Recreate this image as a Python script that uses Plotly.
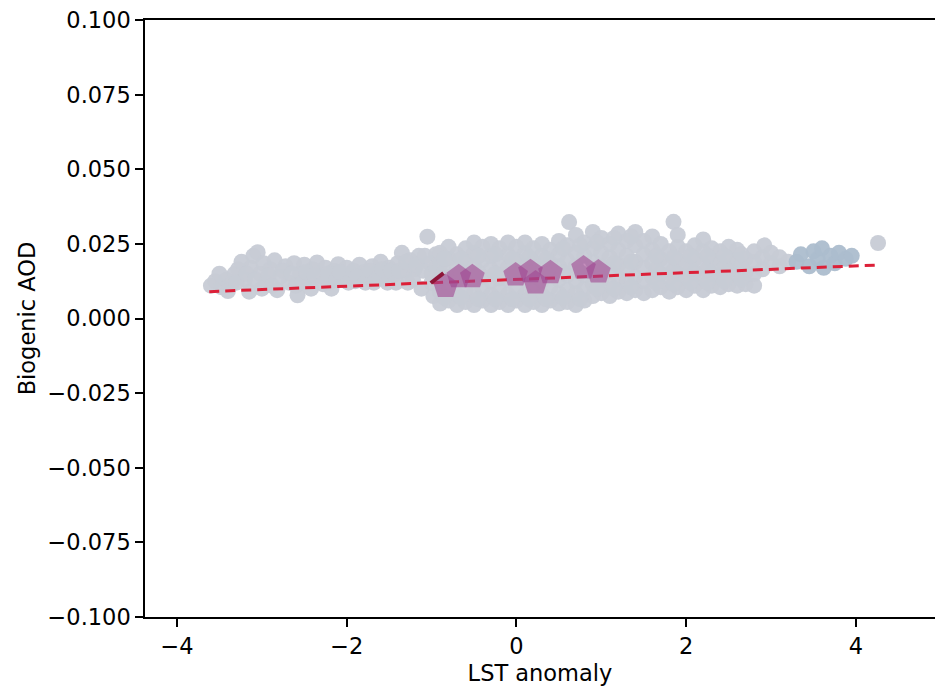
import plotly.graph_objects as go

# ---- data ----
gray_left = [(-3.60,0.0110),(-3.55,0.0125),(-3.48,0.0105),(-3.42,0.0130),(-3.36,0.0115),(-3.32,0.0150),
             (-3.28,0.0165),(-3.24,0.0190),(-3.20,0.0130),(-3.15,0.0090),(-3.13,0.0170),(-3.10,0.0210),
             (-3.05,0.0222),(-3.02,0.0150),(-2.98,0.0185),(-2.95,0.0120),(-2.90,0.0165),(-2.85,0.0195),
             (-2.82,0.0095),(-2.78,0.0140),(-2.72,0.0175),(-2.68,0.0120),(-2.62,0.0185),(-2.58,0.0078),
             (-2.55,0.0150),(-2.50,0.0180),(-2.45,0.0130),(-2.40,0.0165),(-2.35,0.0188),(-2.30,0.0140),
             (-2.25,0.0170),(-2.20,0.0120),(-2.15,0.0160),(-2.10,0.0182),(-2.05,0.0135),(-2.00,0.0170),
             (-1.95,0.0150),(-1.90,0.0125),(-1.85,0.0180),(-1.80,0.0155),(-1.75,0.0135),(-1.70,0.0175),
             (-1.65,0.0150),(-1.60,0.0190),(-1.55,0.0130),(-1.50,0.0170),(-1.45,0.0145),(-1.40,0.0185),
             (-1.35,0.0220),(-1.32,0.0160),(-1.28,0.0120),(-1.25,0.0195),(-1.20,0.0165),(-1.15,0.0210),
             (-1.12,0.0100),(-1.05,0.0274),(-1.02,0.0185),(-1.00,0.0150),(-0.98,0.0075),(-0.95,0.0215),
             (-3.50,0.0150),(-3.40,0.0092),(-3.30,0.0120),(-3.18,0.0150),(-3.08,0.0130),(-3.00,0.0100),
             (-2.92,0.0145),(-2.88,0.0110),(-2.75,0.0160),(-2.65,0.0150),(-2.60,0.0110),(-2.52,0.0120),
             (-2.48,0.0155),(-2.42,0.0100),(-2.38,0.0145),(-2.28,0.0115),(-2.22,0.0150),(-2.18,0.0100),
             (-2.12,0.0130),(-2.08,0.0155),(-1.98,0.0120),(-1.92,0.0160),(-1.88,0.0140),(-1.78,0.0120),
             (-1.72,0.0160),(-1.68,0.0120),(-1.62,0.0140),(-1.58,0.0165),(-1.52,0.0120),(-1.48,0.0160),
             (-1.42,0.0120),(-1.38,0.0160),(-1.30,0.0190),(-1.22,0.0130),(-1.18,0.0180),(-1.10,0.0160),
             (-1.08,0.0210),(-1.00,0.0120),(-0.95,0.0170)]

gray_mid = [(-0.90,0.0050),(-0.90,0.0090),(-0.90,0.0135),(-0.90,0.0180),(-0.90,0.0220),
            (-0.80,0.0060),(-0.80,0.0095),(-0.80,0.0140),(-0.80,0.0200),(-0.80,0.0240),
            (-0.70,0.0045),(-0.70,0.0080),(-0.70,0.0130),(-0.70,0.0170),(-0.70,0.0215),
            (-0.60,0.0055),(-0.60,0.0095),(-0.60,0.0140),(-0.60,0.0190),(-0.60,0.0235),
            (-0.50,0.0045),(-0.50,0.0085),(-0.50,0.0130),(-0.50,0.0175),(-0.50,0.0220),(-0.50,0.0255),
            (-0.40,0.0060),(-0.40,0.0100),(-0.40,0.0140),(-0.40,0.0195),(-0.40,0.0240),
            (-0.30,0.0045),(-0.30,0.0080),(-0.30,0.0125),(-0.30,0.0165),(-0.30,0.0210),(-0.30,0.0250),
            (-0.20,0.0055),(-0.20,0.0095),(-0.20,0.0135),(-0.20,0.0185),(-0.20,0.0235),
            (-0.10,0.0045),(-0.10,0.0080),(-0.10,0.0130),(-0.10,0.0170),(-0.10,0.0215),(-0.10,0.0255),
            (0.00,0.0060),(0.00,0.0095),(0.00,0.0140),(0.00,0.0195),(0.00,0.0240),
            (0.10,0.0045),(0.10,0.0080),(0.10,0.0130),(0.10,0.0175),(0.10,0.0220),(0.10,0.0255),
            (0.20,0.0055),(0.20,0.0095),(0.20,0.0140),(0.20,0.0190),(0.20,0.0235),
            (0.30,0.0045),(0.30,0.0080),(0.30,0.0125),(0.30,0.0165),(0.30,0.0210),(0.30,0.0250),
            (0.40,0.0060),(0.40,0.0105),(0.40,0.0145),(0.40,0.0185),(0.40,0.0230),
            (0.50,0.0050),(0.50,0.0085),(0.50,0.0130),(0.50,0.0175),(0.50,0.0215),(0.50,0.0260),
            (0.60,0.0055),(0.60,0.0095),(0.60,0.0145),(0.60,0.0195),(0.60,0.0245),(0.62,0.0323),
            (0.70,0.0045),(0.70,0.0085),(0.70,0.0125),(0.70,0.0175),(0.70,0.0220),(0.70,0.0280),
            (0.80,0.0060),(0.80,0.0100),(0.80,0.0145),(0.80,0.0210),(0.80,0.0255),
            (0.90,0.0075),(0.90,0.0115),(0.90,0.0150),(0.90,0.0190),(0.90,0.0235),(0.90,0.0290),
            (1.00,0.0085),(1.00,0.0130),(1.00,0.0175),(1.00,0.0220),(1.00,0.0270),
            (1.10,0.0075),(1.10,0.0115),(1.10,0.0160),(1.10,0.0205),(1.10,0.0250),
            (1.20,0.0090),(1.20,0.0135),(1.20,0.0180),(1.20,0.0230),(1.20,0.0285),
            (1.30,0.0085),(1.30,0.0125),(1.30,0.0165),(1.30,0.0210),(1.30,0.0260),
            (1.40,0.0095),(1.40,0.0140),(1.40,0.0190),(1.40,0.0245),(1.40,0.0290),
            (1.50,0.0085),(1.50,0.0125),(1.50,0.0170),(1.50,0.0215),(1.50,0.0260),
            (-0.85,0.0070),(-0.85,0.0155),(-0.85,0.0200),(-0.65,0.0070),(-0.65,0.0155),(-0.65,0.0200),
            (-0.45,0.0065),(-0.45,0.0155),(-0.45,0.0210),(-0.25,0.0065),(-0.25,0.0150),(-0.25,0.0215),
            (-0.05,0.0065),(-0.05,0.0155),(-0.05,0.0200),(0.15,0.0065),(0.15,0.0155),(0.15,0.0205),
            (0.35,0.0065),(0.35,0.0150),(0.35,0.0200),(0.55,0.0070),(0.55,0.0155),(0.55,0.0235),
            (0.75,0.0065),(0.75,0.0155),(0.75,0.0245),(0.95,0.0100),(0.95,0.0170),(0.95,0.0255),
            (1.15,0.0100),(1.15,0.0185),(1.15,0.0270),(1.35,0.0105),(1.35,0.0190),(1.35,0.0275)]

gray_right = [(1.60,0.0095),(1.60,0.0140),(1.60,0.0185),(1.60,0.0230),(1.60,0.0275),
              (1.70,0.0105),(1.70,0.0150),(1.70,0.0200),(1.70,0.0250),
              (1.80,0.0090),(1.80,0.0135),(1.80,0.0180),(1.80,0.0225),(1.85,0.0324),
              (1.90,0.0105),(1.90,0.0150),(1.90,0.0195),(1.90,0.0240),(1.90,0.0280),
              (2.00,0.0095),(2.00,0.0140),(2.00,0.0180),(2.00,0.0225),
              (2.10,0.0110),(2.10,0.0155),(2.10,0.0200),(2.10,0.0245),
              (2.20,0.0095),(2.20,0.0135),(2.20,0.0180),(2.20,0.0225),(2.20,0.0265),
              (2.30,0.0110),(2.30,0.0150),(2.30,0.0195),(2.30,0.0235),
              (2.40,0.0105),(2.40,0.0145),(2.40,0.0185),(2.40,0.0225),
              (2.50,0.0115),(2.50,0.0160),(2.50,0.0200),(2.50,0.0240),
              (2.60,0.0110),(2.60,0.0150),(2.60,0.0195),(2.60,0.0230),
              (2.70,0.0115),(2.70,0.0155),(2.70,0.0200),
              (2.80,0.0110),(2.80,0.0150),(2.80,0.0190),(2.80,0.0225),
              (2.90,0.0165),(2.90,0.0205),(2.92,0.0245),
              (3.00,0.0185),(3.00,0.0220),(3.10,0.0175),(3.10,0.0205),(3.20,0.0190),
              (1.65,0.0120),(1.65,0.0165),(1.65,0.0210),(1.85,0.0115),(1.85,0.0160),(1.85,0.0205),
              (2.05,0.0120),(2.05,0.0165),(2.05,0.0210),(2.25,0.0120),(2.25,0.0165),(2.25,0.0210),
              (2.45,0.0125),(2.45,0.0170),(2.45,0.0210),(2.65,0.0130),(2.65,0.0175),(2.65,0.0215),
              (4.26,0.0253)]

blue_pts = [(3.30,0.0190),(3.35,0.0215),(3.45,0.0175),(3.50,0.0225),(3.55,0.0200),(3.60,0.0235),
            (3.62,0.0170),(3.70,0.0210),(3.75,0.0185),(3.80,0.0220),(3.88,0.0200),(3.95,0.0210)]

pent_x = [-0.835, -0.68, -0.52, -0.01, 0.165, 0.225, 0.40, 0.79, 0.965]
pent_y = [0.0107, 0.0140, 0.0140, 0.0146, 0.0157, 0.0119, 0.0153, 0.0169, 0.0156]

fit_x = [-3.62, 4.25]
fit_y = [0.0090, 0.0179]

kink_x = [-1.01, -0.86]
kink_y = [0.0119, 0.0152]

x_ticks = [-4, -2, 0, 2, 4]
y_ticks = [-0.100, -0.075, -0.050, -0.025, 0.000, 0.025, 0.050, 0.075, 0.100]

FONT = "DejaVu Sans"
FS = 22.5
GRAY = "rgba(199,203,213,0.95)"

fig = go.Figure()
for pts, col in [(gray_left, GRAY), (gray_mid, GRAY), (gray_right, GRAY),
                 (blue_pts, "rgba(172,189,205,0.95)")]:
    fig.add_trace(go.Scatter(
        x=[p[0] for p in pts], y=[p[1] for p in pts], mode="markers",
        marker=dict(size=16, color=col, line=dict(width=0)), showlegend=False))

fig.add_trace(go.Scatter(x=fit_x, y=fit_y, mode="lines",
                         line=dict(color="#dc2038", width=3, dash="10px,6px"),
                         showlegend=False))
fig.add_trace(go.Scatter(x=pent_x, y=pent_y, mode="markers",
                         marker=dict(symbol="pentagon", size=26,
                                     color="rgba(160,70,145,0.6)", line=dict(width=0)),
                         showlegend=False))
fig.add_trace(go.Scatter(x=kink_x, y=kink_y, mode="lines",
                         line=dict(color="#8e1538", width=4), showlegend=False))

axis_common = dict(showgrid=False, zeroline=False, showline=True, linecolor="black",
                   linewidth=1.5, ticks="outside", ticklen=8, tickwidth=1.5,
                   tickcolor="black", tickfont=dict(family=FONT, size=FS, color="black"))

fig.update_xaxes(range=[-4.377, 4.931], tickvals=x_ticks, mirror=True,
                 title=dict(text="LST anomaly", font=dict(family=FONT, size=FS, color="black"),
                            standoff=7),
                 **axis_common)
fig.update_yaxes(range=[-0.1, 0.1], tickvals=y_ticks, tickformat=".3f",
                 title=dict(text="Biogenic AOD", font=dict(family=FONT, size=FS, color="black"),
                            standoff=6),
                 **axis_common)

fig.update_layout(width=935, height=687, margin=dict(l=145, r=0, t=20, b=70),
                  plot_bgcolor="white", paper_bgcolor="white",
                  font=dict(family=FONT, size=FS, color="black"))

fig.write_html("out.html")
